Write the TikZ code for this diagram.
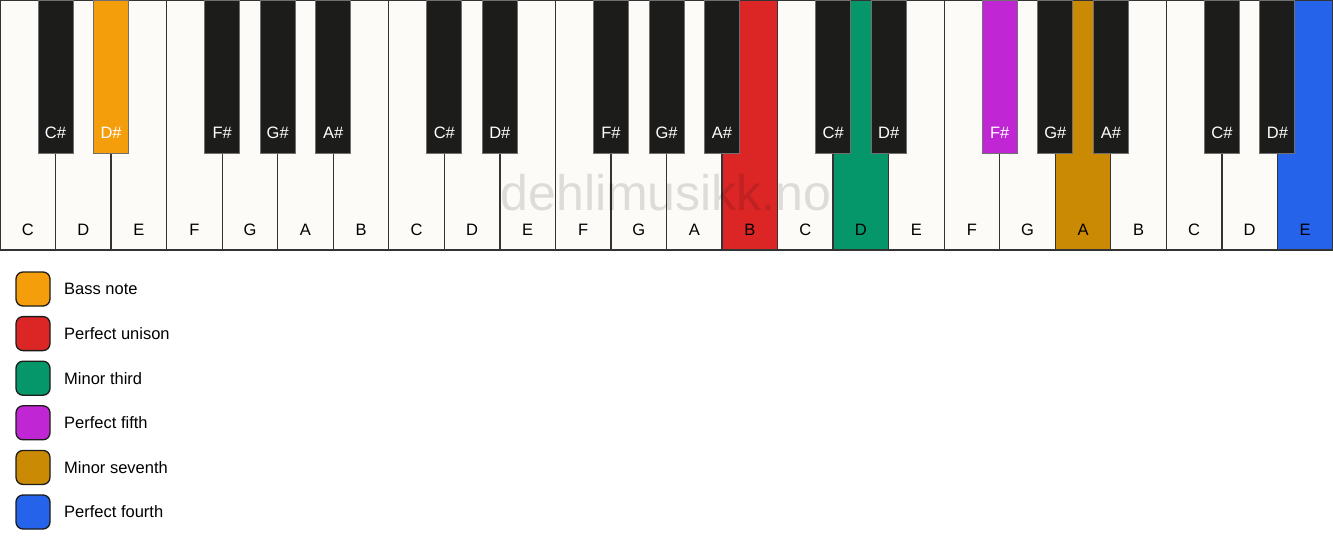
\documentclass[tikz,border=0pt]{standalone}
\usepackage{fontspec}
\setmainfont{Liberation Sans}
\definecolor{keywhite}{HTML}{FCFBF8}
\definecolor{keyblack}{HTML}{1C1C1A}
\definecolor{keyline}{HTML}{333333}
\definecolor{cBass}{HTML}{F59E0B}
\definecolor{cUnison}{HTML}{DC2626}
\definecolor{cThird}{HTML}{059669}
\definecolor{cFifth}{HTML}{C026D3}
\definecolor{cSeventh}{HTML}{CA8A04}
\definecolor{cFourth}{HTML}{2563EB}
\tikzset{
  whitekey/.style={draw=keyline, line width=1.3pt, rectangle, inner sep=0pt, outer sep=0pt, minimum width=55.54pt, minimum height=250pt, anchor=north west},
  blackkey/.style={draw=keyline!70, line width=1pt, rectangle, inner sep=0pt, outer sep=0pt, minimum width=35pt, minimum height=153pt, anchor=north},
  wlabel/.style={font=\fontsize{16.5}{19}\selectfont, text=black, anchor=center},
  blabel/.style={font=\fontsize{16.5}{19}\selectfont, text=white, anchor=center},
  legbox/.style={draw=keyblack, line width=1.3pt, rounded corners=7pt, minimum width=34pt, minimum height=34pt, inner sep=0pt, anchor=center},
  legtext/.style={font=\fontsize{16.5}{19}\selectfont, anchor=west, inner sep=0pt},
  watermark/.style={font=\fontsize{50}{58}\selectfont, text=black, text opacity=0.12, anchor=center}
}
\begin{document}
\begin{tikzpicture}[x=1pt,y=-1pt]
\useasboundingbox (0,0) rectangle (1333,550);
\fill[white] (0,0) rectangle (1333,550);
\def\w{55.5417}
% white keys
\foreach \n/\c [count=\i from 0] in {C/keywhite,D/keywhite,E/keywhite,F/keywhite,G/keywhite,A/keywhite,B/keywhite,
  C/keywhite,D/keywhite,E/keywhite,F/keywhite,G/keywhite,A/keywhite,B/cUnison,
  C/keywhite,D/cThird,E/keywhite,F/keywhite,G/keywhite,A/cSeventh,B/keywhite,
  C/keywhite,D/keywhite,E/cFourth}{
  \node[whitekey, fill=\c] (w\i) at ({\i*\w},0) {};
  \node[wlabel] (wl\i) at ({(\i+0.5)*\w},230) {\n};
}
% watermark
\node[watermark] (wm) at (666,193) {dehlimusikk.no};
% black keys
\foreach \b/\n/\c in {1/C\#/keyblack,2/D\#/cBass,4/F\#/keyblack,5/G\#/keyblack,6/A\#/keyblack,
  8/C\#/keyblack,9/D\#/keyblack,11/F\#/keyblack,12/G\#/keyblack,13/A\#/keyblack,
  15/C\#/keyblack,16/D\#/keyblack,18/F\#/cFifth,19/G\#/keyblack,20/A\#/keyblack,
  22/C\#/keyblack,23/D\#/keyblack}{
  \node[blackkey, fill=\c] (b\b) at ({\b*\w},0) {};
  \node[blabel] (bl\b) at ({\b*\w},133) {\n};
}
\draw[keyline, line width=1.3pt] (0,250) -- (1333,250);
% legend
\foreach \c/\t [count=\k from 0] in {cBass/Bass note,cUnison/Perfect unison,cThird/Minor third,cFifth/Perfect fifth,cSeventh/Minor seventh,cFourth/Perfect fourth}{
  \node[legbox, fill=\c] (lg\k) at (33,{289+\k*44.6}) {};
  \node[legtext] (lt\k) at (64,{289+\k*44.6}) {\t};
}
\end{tikzpicture}
\end{document}
